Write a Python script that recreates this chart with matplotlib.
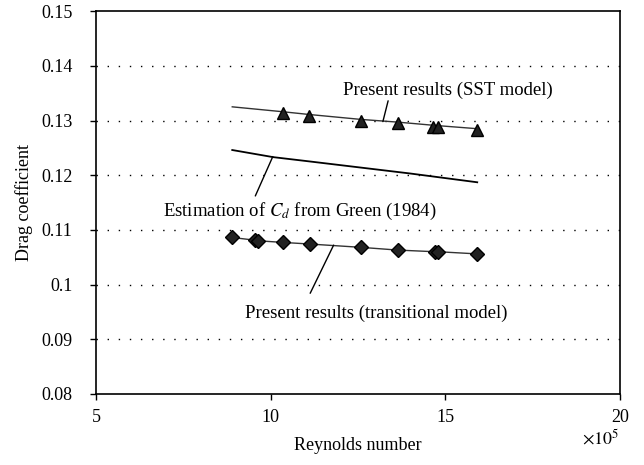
import matplotlib.pyplot as plt

# Reynolds number (x 1e5) and drag coefficient
re_sst = [10.35, 11.1, 12.58, 13.64, 14.65, 14.79, 15.91]
cd_sst = [0.1313, 0.1308, 0.1300, 0.1295, 0.1289, 0.1289, 0.1283]
re_sst_line = [8.9, 10.35, 11.1, 12.58, 13.64, 14.7, 15.91]
cd_sst_line = [0.1325, 0.1316, 0.1311, 0.1302, 0.1297, 0.1291, 0.1285]

re_green = [8.9, 10.07, 11.13, 14.0, 15.91]
cd_green = [0.1246, 0.1233, 0.1225, 0.1203, 0.1187]

re_trans = [8.9, 9.56, 9.64, 10.35, 11.13, 12.58, 13.63, 14.69, 14.78, 15.91]
cd_trans = [0.1086, 0.1081, 0.1080, 0.1077, 0.1074, 0.1068, 0.1063, 0.1060, 0.1060, 0.1056]

xticks = [5, 10, 15, 20]
yticks = [0.08, 0.09, 0.1, 0.11, 0.12, 0.13, 0.14, 0.15]
yticklabels = ["0.08", "0.09", "0.1", "0.11", "0.12", "0.13", "0.14", "0.15"]

plt.rcParams["font.family"] = ["Liberation Serif", "DejaVu Serif"]
plt.rcParams["mathtext.fontset"] = "stix"
fs = 13

fig = plt.figure(figsize=(6.44, 4.65), dpi=100)
ax = fig.add_axes([0.149, 0.153, 0.814, 0.823])

for y in yticks[1:-1]:
    ax.axhline(y, color="black", lw=1, linestyle=(0, (1, 7)), zorder=0)

ax.plot(re_sst_line, cd_sst_line, color="#333333", lw=1)
ax.plot(re_sst, cd_sst, linestyle="none", marker="^", markersize=9,
        color="#222222", markeredgecolor="black")
ax.plot(re_green, cd_green, color="black", lw=1.3)
ax.plot(re_trans, cd_trans, color="#333333", lw=1, marker="D", markersize=7.5,
        markerfacecolor="#222222", markeredgecolor="black")

ax.set_xlim(5, 20)
ax.set_ylim(0.08, 0.15)
ax.set_xticks(xticks)
ax.set_yticks(yticks)
ax.set_yticklabels(yticklabels)
ax.tick_params(direction="out", length=4, width=1, labelsize=fs, colors="black")
ax.tick_params(axis="x", pad=7)
ax.tick_params(axis="y", pad=13)
for s in ax.spines.values():
    s.set_linewidth(1.2)

ax.set_xlabel("Reynolds number", fontsize=fs, labelpad=8)
ax.set_ylabel("Drag coefficient", fontsize=fs, labelpad=6)
fig.text(0.932, 0.045, r"$\times10^5$", fontsize=fs, ha="center")

# labels and leader lines
ax.text(12.07, 0.1356, "Present results (SST model)", fontsize=13.5, va="center")
ax.text(6.91, 0.1134, r"Estimation of $C_d$ from Green (1984)", fontsize=13.5, va="center")
ax.text(9.27, 0.0948, "Present results (transitional model)", fontsize=13.5, va="center")

line_kw = dict(arrowstyle="-", color="black", lw=1, shrinkA=0, shrinkB=0)
ax.annotate("", xy=(13.21, 0.1298), xytext=(13.36, 0.1336), arrowprops=line_kw)
ax.annotate("", xy=(10.06, 0.1234), xytext=(9.56, 0.1162), arrowprops=line_kw)
ax.annotate("", xy=(11.80, 0.1072), xytext=(11.13, 0.0984), arrowprops=line_kw)

fig.savefig("out.png", dpi=100)
